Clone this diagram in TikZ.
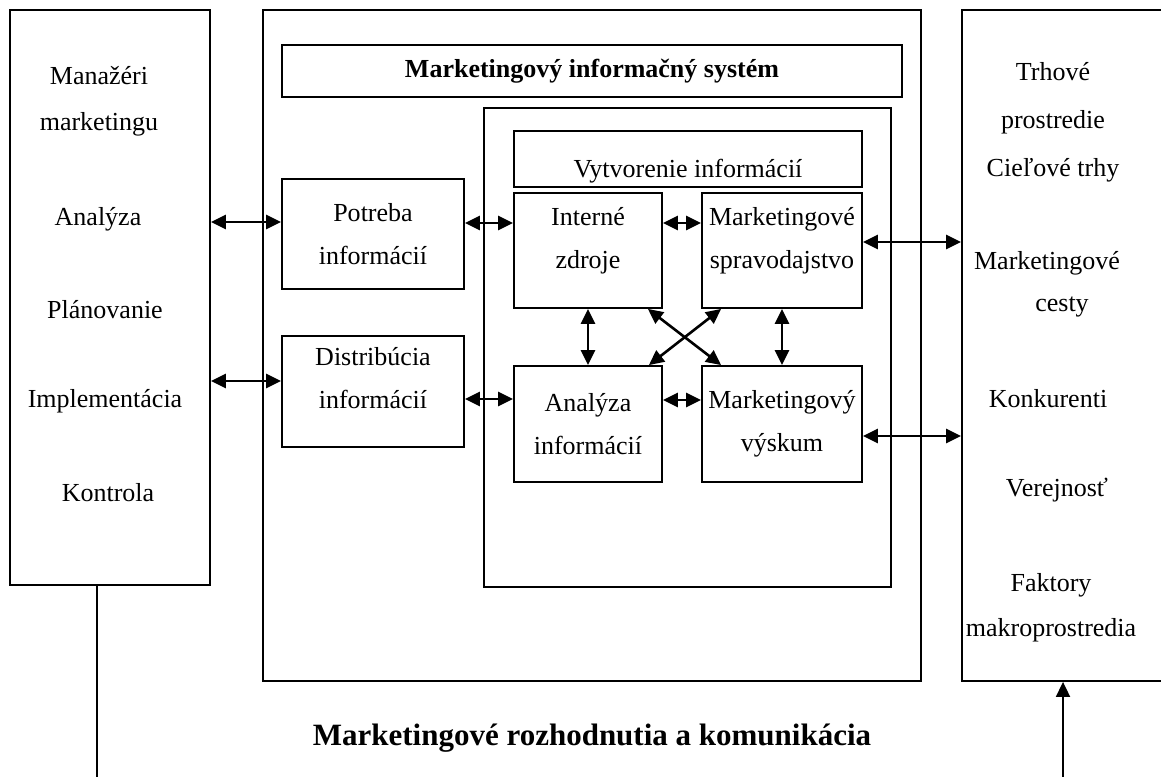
\documentclass[tikz,border=0pt]{standalone}
\usepackage{fontspec}
\setmainfont{Liberation Serif}
\usetikzlibrary{arrows.meta,positioning}

\begin{document}
\begin{tikzpicture}[x=1pt,y=-1pt,
    box/.style={draw,line width=1.8pt,align=center,inner sep=0pt,
                font=\fontsize{26}{43}\selectfont},
    item/.style={align=center,inner sep=0pt,font=\fontsize{26}{46}\selectfont},
    dbl/.style={{Triangle[length=15pt,width=14pt]}-{Triangle[length=15pt,width=14pt]},line width=2.6pt},
    >={Triangle[length=15pt,width=14pt]}]
  \clip (0,0) rectangle (1161,776);
  % outer boxes
  \node[box,minimum width=200pt,minimum height=575pt] (mgr) at (110,297.5) {};
  \node[box,minimum width=658pt,minimum height=671pt] (mis) at (592,345.5) {};
  \node[box,minimum width=208pt,minimum height=671pt] (env) at (1066,345.5) {};
  % left list
  \node[item] (mgrA) at (99,101) {Manažéri\\marketingu};
  \node[item] (mgrB) at (98,219) {Analýza};
  \node[item] (mgrC) at (105,310) {Plánovanie};
  \node[item] (mgrD) at (105,401) {Implementácia};
  \node[item] (mgrE) at (108,493) {Kontrola};
  % right list
  \node[item,font=\fontsize{26}{48}\selectfont] (envA) at (1053,122) {Trhové\\prostredie\\Cieľové trhy};
  \node[item] (envB) at (1047,263) {Marketingové};
  \node[item] (envC) at (1062,307) {cesty};
  \node[item] (envD) at (1048,399) {Konkurenti};
  \node[item] (envE) at (1057,490) {Verejnosť};
  \node[item,font=\fontsize{26}{45}\selectfont] (envF) at (1051,608) {Faktory\\makroprostredia};
  % information system
  \node[box,minimum width=620pt,minimum height=52pt,font=\fontsize{26}{43}\selectfont\bfseries] (title) at (592,71) {Marketingový informačný systém};
  \node[box,minimum width=407pt,minimum height=479pt] (dev) at (687.5,347.5) {};
  \node[box,minimum width=348pt,minimum height=56pt,text height=42pt] (devT) at (688,159) {Vytvorenie informácií};
  \node[box,minimum width=182pt,minimum height=110pt] (pot) at (373,234) {Potreba\\informácií};
  \node[box,minimum width=182pt,minimum height=111pt,text depth=28pt] (dis) at (373,391.5) {Distribúcia\\informácií};
  \node[box,minimum width=148pt,minimum height=115pt,text depth=26pt] (int) at (588,250.5) {Interné\\zdroje};
  \node[box,minimum width=160pt,minimum height=115pt,text depth=26pt] (spr) at (782,250.5) {Marketingové\\spravodajstvo};
  \node[box,minimum width=148pt,minimum height=116pt] (ana) at (588,424) {Analýza\\informácií};
  \node[box,minimum width=160pt,minimum height=116pt] (vys) at (782,424) {Marketingový\\výskum};
  % connectors
  \draw[dbl] (mgr.east |- 0,222) -- (pot.west |- 0,222);
  \draw[dbl] (mgr.east |- 0,381) -- (dis.west |- 0,381);
  \draw[dbl] (pot.east |- 0,223) -- (int.west |- 0,223);
  \draw[dbl] (dis.east |- 0,399) -- (ana.west |- 0,399);
  \draw[dbl] (int.east |- 0,223) -- (spr.west |- 0,223);
  \draw[dbl] (ana.east |- 0,400) -- (vys.west |- 0,400);
  \draw[dbl] (spr.east |- 0,242) -- (env.west |- 0,242);
  \draw[dbl] (vys.east |- 0,436) -- (env.west |- 0,436);
  \draw[dbl] (int) -- (ana);
  \draw[dbl] (spr) -- (vys);
  \draw[dbl] ([xshift=-15pt]int.south east) -- ([xshift=20pt]vys.north west);
  \draw[dbl] ([xshift=20pt]spr.south west) -- ([xshift=-14pt]ana.north east);
  % decisions
  \node[font=\fontsize{31}{37}\selectfont\bfseries] (dec) at (592,738) {Marketingové rozhodnutia a komunikácia};
  \coordinate (lo) at (97,790);
  \coordinate (ro) at (1063,790);
  \draw[line width=1.8pt] (lo |- mgr.south) -- (lo);
  \draw[->,line width=1.8pt] (ro) -- (ro |- env.south);
\end{tikzpicture}
\end{document}
